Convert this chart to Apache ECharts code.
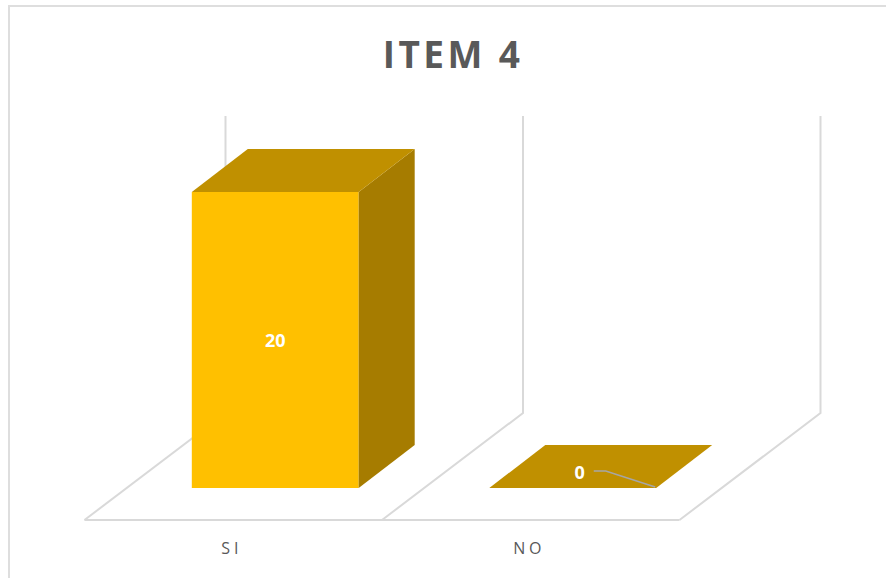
<!DOCTYPE html>
<html>
<head>
<meta charset="utf-8">
<style>
html,body{margin:0;padding:0;background:#fff}
#c{width:886px;height:578px}
svg text[style*="37px"]{letter-spacing:3.4px}
svg text[style*="16px"]{letter-spacing:3.8px}
</style>
<script src="https://cdn.jsdelivr.net/npm/echarts@6/dist/echarts.min.js"></script>
</head>
<body>
<div id="c"></div>
<script>
const categories = ['SI', 'NO'];
const values = [20, 0];
const titleText = 'ITEM 4';
const axisMax = 20;

const FONT = '"Open Sans", sans-serif';
const WALL = '#D9D9D9', FRONT = '#FFC000', TOP = '#C09000', SIDE = '#A67C00';
const FLOOR_DROP = 32, WALL_DX = 141, WALL_DY = 107, WALL_RISE = 76, BAR_DX = 56, BAR_DY = 43;
const BAR_SHIFT = 42, BAR_RATIO = 0.561;

const chart = echarts.init(document.getElementById('c'), null, {renderer: 'svg'});

function wallItem(params, api) {
  const idx = api.value(0);
  const base = api.coord([idx, 0]);
  const peak = api.coord([idx, axisMax]);
  const band = api.size([1, 0])[0];
  const floorY = base[1] + FLOOR_DROP;
  const edge = x => ({
    type: 'polyline',
    shape: {points: [[x, floorY], [x + WALL_DX, floorY - WALL_DY], [x + WALL_DX, peak[1] - WALL_RISE]]},
    style: {stroke: WALL, lineWidth: 2, fill: 'none'}
  });
  const left = base[0] - band / 2, right = base[0] + band / 2;
  const children = [
    edge(left),
    {type: 'line', shape: {x1: left, y1: floorY, x2: right, y2: floorY}, style: {stroke: WALL, lineWidth: 2}}
  ];
  if (idx === categories.length - 1) children.push(edge(right));
  return {type: 'group', children};
}

function barItem(params, api) {
  const idx = api.value(0), v = api.value(1);
  const base = api.coord([idx, 0]);
  const top = api.coord([idx, v]);
  const w = api.size([1, 0])[0] * BAR_RATIO;
  const xl = base[0] + BAR_SHIFT - w / 2, xr = xl + w;
  const y0 = base[1], yt = top[1];
  const children = [];
  if (v > 0) {
    children.push({type: 'polygon', shape: {points: [[xl, y0], [xr, y0], [xr, yt], [xl, yt]]}, style: {fill: FRONT}});
    children.push({type: 'polygon', shape: {points: [[xr, yt], [xr + BAR_DX, yt - BAR_DY], [xr + BAR_DX, y0 - BAR_DY], [xr, y0]]}, style: {fill: SIDE}});
  }
  children.push({type: 'polygon', shape: {points: [[xl, yt], [xr, yt], [xr + BAR_DX, yt - BAR_DY], [xl + BAR_DX, yt - BAR_DY]]}, style: {fill: TOP}});
  const labelX = v > 0 ? (xl + xr) / 2 : (xl + xr) / 2 + 7;
  const labelY = v > 0 ? (y0 + yt) / 2 : y0 - 16;
  if (v === 0) {
    children.push({type: 'polyline', shape: {points: [[labelX + 14, labelY - 1], [labelX + 26, labelY - 1], [xr - 1, y0 - 1]]}, style: {stroke: '#A6A6A6', lineWidth: 1.5, fill: 'none'}});
  }
  children.push({type: 'text', style: {text: String(v), x: labelX, y: labelY, fill: '#FFFFFF', font: 'bold 18px ' + FONT, align: 'center', verticalAlign: 'middle'}});
  return {type: 'group', children};
}

chart.setOption({
  animation: false,
  backgroundColor: '#fff',
  title: {
    text: titleText, left: 448, top: 30, textAlign: 'center',
    textStyle: {fontFamily: FONT, fontWeight: 'bold', fontSize: 37, color: '#595959'}
  },
  grid: {left: 84.5, width: 595, top: 192, height: 296},
  graphic: [{
    type: 'rect', z: -1,
    shape: {x: 9, y: 6, width: 900, height: 600},
    style: {fill: '#fff', stroke: '#DEDEDE', lineWidth: 2}
  }],
  xAxis: {
    type: 'category', data: categories, offset: FLOOR_DROP,
    axisLine: {show: false}, axisTick: {show: false}, splitLine: {show: false},
    axisLabel: {fontFamily: FONT, fontSize: 16, color: '#595959', margin: 20, padding: [0, 3, 0, 0]}
  },
  yAxis: {type: 'value', min: 0, max: axisMax, show: false},
  series: [
    {type: 'custom', renderItem: wallItem, encode: {x: 0, y: 1}, data: values.map((v, i) => [i, v]), z: 1, silent: true},
    {type: 'custom', renderItem: barItem, encode: {x: 0, y: 1}, data: values.map((v, i) => [i, v]), z: 2, silent: true}
  ]
});
</script>
</body>
</html>
